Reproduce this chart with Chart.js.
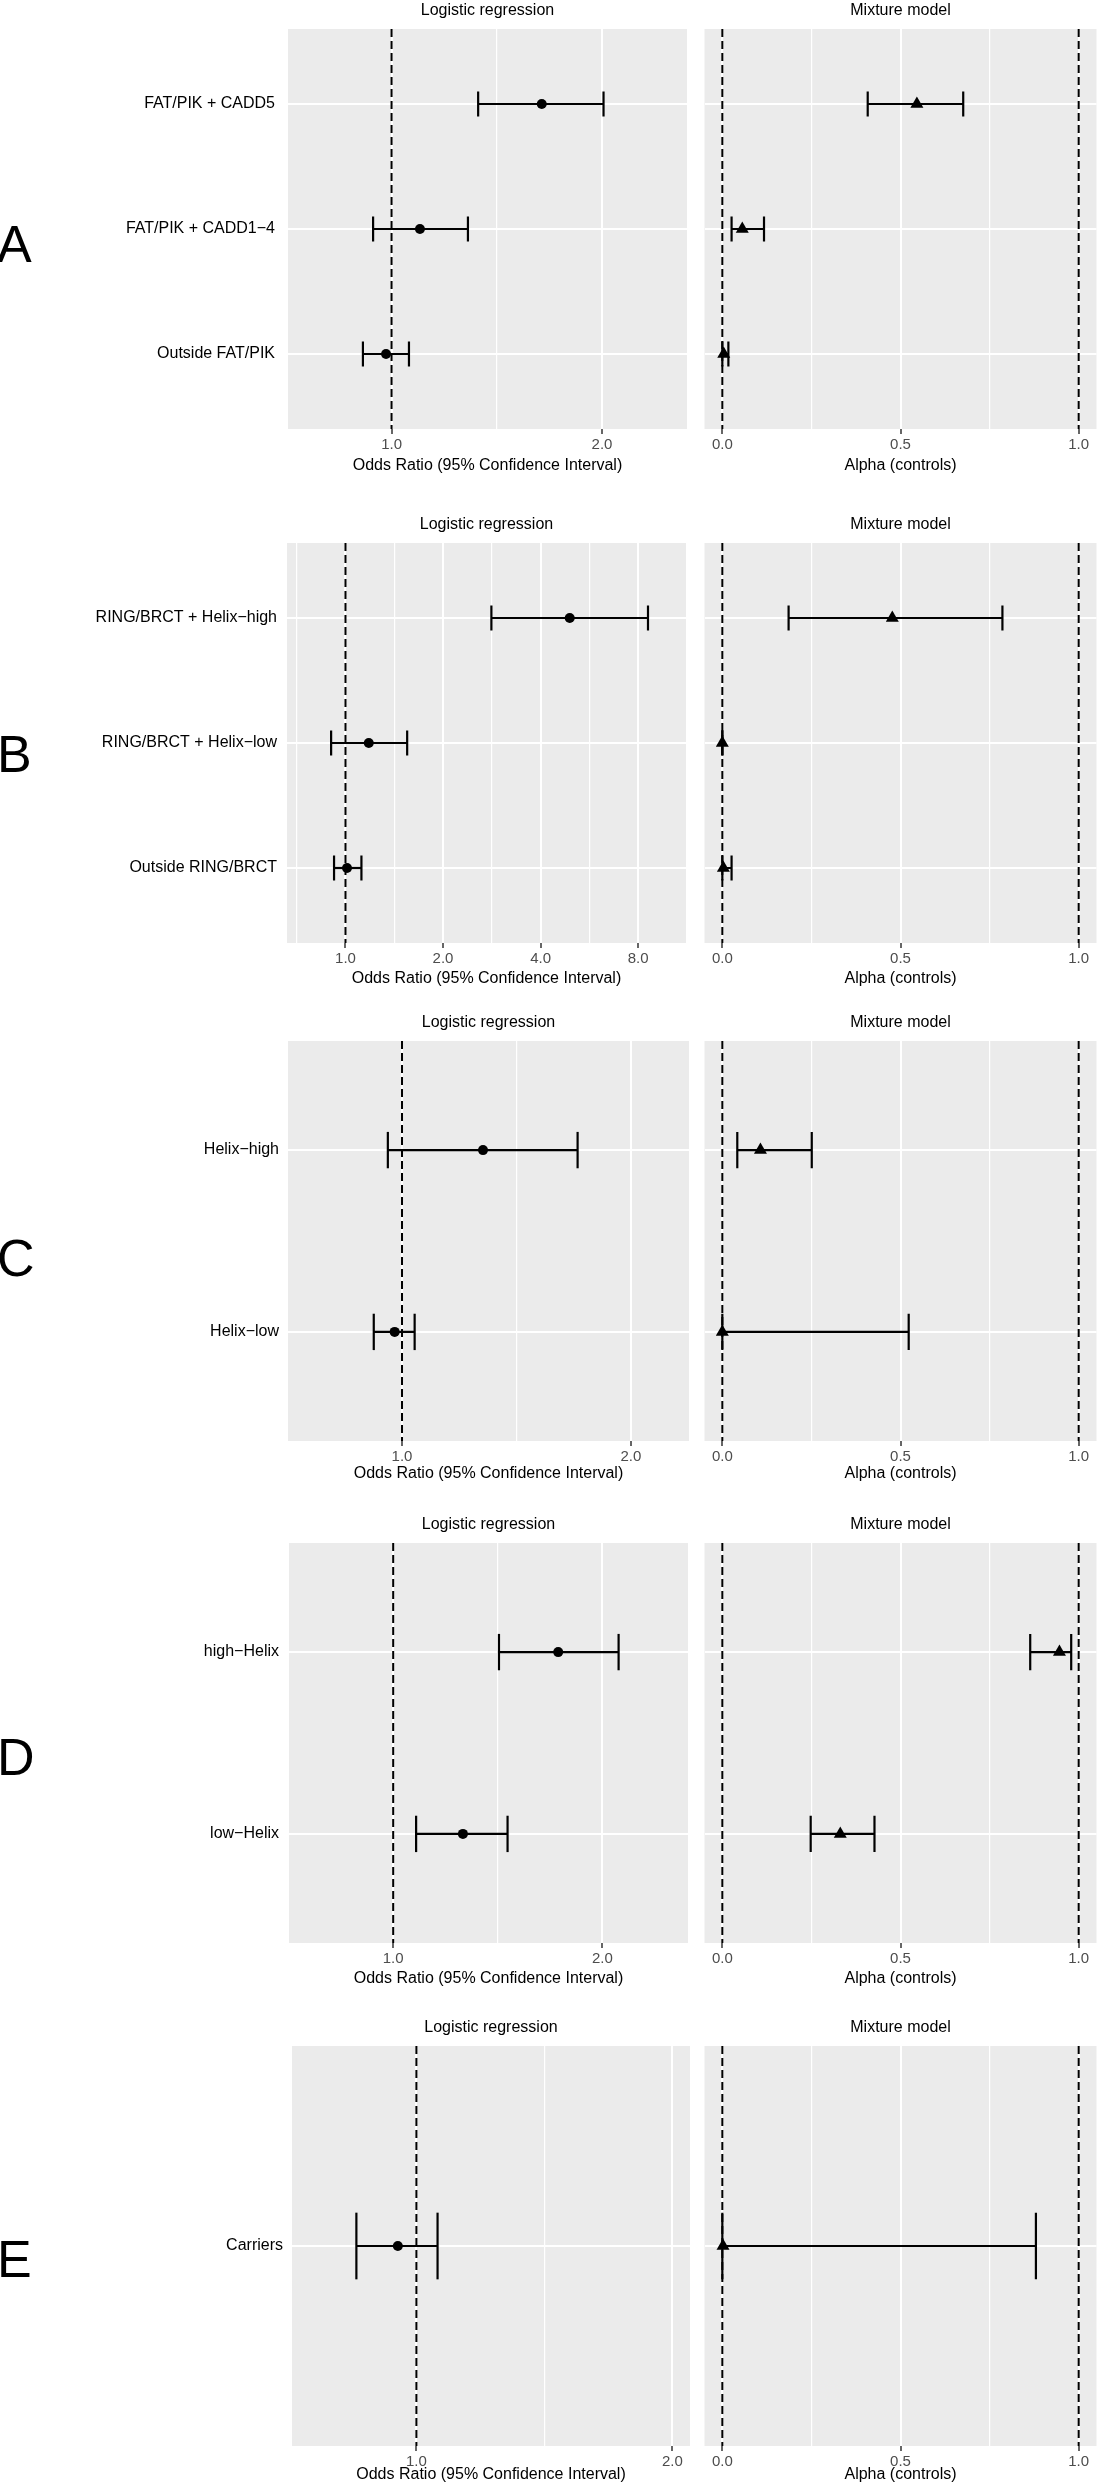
<!DOCTYPE html>
<html>
<head>
<meta charset="utf-8">
<title>Logistic regression vs mixture model</title>
<script src="https://cdn.jsdelivr.net/npm/chart.js@4.4.1/dist/chart.umd.min.js"></script>
<style>
  html, body { margin: 0; padding: 0; background: #fff; overflow: hidden; }
  #page { position: relative; width: 1104px; height: 2484px; overflow: hidden; }
  canvas { position: absolute; }
  .letter { position: absolute; left: -3px; font: 52px "Liberation Sans", Arial, sans-serif; line-height: 1; transform: translateY(-50%); }
</style>
</head>
<body>
<div id="page"></div>
<script>
// ---- data ----
// A
const catsA = ['FAT/PIK + CADD5', 'FAT/PIK + CADD1−4', 'Outside FAT/PIK'];
const orA = [1.64, 1.098, 0.982];
const orLoA = [1.33, 0.941, 0.910];
const orHiA = [2.01, 1.286, 1.059];
const alphaA = [0.546, 0.056, 0.004];
const alphaLoA = [0.408, 0.026, 0.0];
const alphaHiA = [0.676, 0.117, 0.017];
const orLimitsA = [0.711, 2.646];
const orBreaksA = [1, 2];

// B
const catsB = ['RING/BRCT + Helix−high', 'RING/BRCT + Helix−low', 'Outside RING/BRCT'];
const orB = [4.92, 1.18, 1.011];
const orLoB = [2.82, 0.903, 0.922];
const orHiB = [8.58, 1.55, 1.12];
const alphaB = [0.477, 0.0, 0.003];
const alphaLoB = [0.186, 0.0, 0.0];
const alphaHiB = [0.786, 0.0, 0.026];
const orLimitsB = [0.66, 11.24];
const orBreaksB = [1, 2, 4, 8];

// C
const catsC = ['Helix−high', 'Helix−low'];
const orC = [1.278, 0.978];
const orLoC = [0.958, 0.918];
const orHiC = [1.702, 1.039];
const alphaC = [0.107, 0.0];
const alphaLoC = [0.042, 0.0];
const alphaHiC = [0.251, 0.523];
const orLimitsC = [0.708, 2.385];
const orBreaksC = [1, 2];

// D
const catsD = ['high−Helix', 'low−Helix'];
const orD = [1.728, 1.26];
const orLoD = [1.42, 1.079];
const orHiD = [2.111, 1.461];
const alphaD = [0.946, 0.331];
const alphaLoD = [0.864, 0.248];
const alphaHiD = [0.979, 0.427];
const orLimitsD = [0.708, 2.657];
const orBreaksD = [1, 2];

// E
const catsE = ['Carriers'];
const orE = [0.951];
const orLoE = [0.850];
const orHiE = [1.059];
const alphaE = [0.002];
const alphaLoE = [0.0];
const alphaHiE = [0.880];
const orLimitsE = [0.714, 2.098];
const orBreaksE = [1, 2];

const alphaLimits = [-0.05, 1.05];
const alphaBreaks = [0, 0.5, 1];
const alphaMinor = [0.25, 0.75];
const orRef = [1];
const alphaRef = [0, 1];

const rows = [
  { letter: 'A', cats: catsA, or: orA, orLo: orLoA, orHi: orHiA, alpha: alphaA, alphaLo: alphaLoA, alphaHi: alphaHiA, orLimits: orLimitsA, orBreaks: orBreaksA },
  { letter: 'B', cats: catsB, or: orB, orLo: orLoB, orHi: orHiB, alpha: alphaB, alphaLo: alphaLoB, alphaHi: alphaHiB, orLimits: orLimitsB, orBreaks: orBreaksB },
  { letter: 'C', cats: catsC, or: orC, orLo: orLoC, orHi: orHiC, alpha: alphaC, alphaLo: alphaLoC, alphaHi: alphaHiC, orLimits: orLimitsC, orBreaks: orBreaksC },
  { letter: 'D', cats: catsD, or: orD, orLo: orLoD, orHi: orHiD, alpha: alphaD, alphaLo: alphaLoD, alphaHi: alphaHiD, orLimits: orLimitsD, orBreaks: orBreaksD },
  { letter: 'E', cats: catsE, or: orE, orLo: orLoE, orHi: orHiE, alpha: alphaE, alphaLo: alphaLoE, alphaHi: alphaHiE, orLimits: orLimitsE, orBreaks: orBreaksE }
];

// where each row sits on the page (px)
const placement = [
  { top: 29, letterY: 244, orX: [288, 687], alX: [702, 1102], gap: 13, axisH: 46 },
  { top: 543, letterY: 754, orX: [287, 686], alX: [703, 1102], gap: 10, axisH: 45 },
  { top: 1041, letterY: 1258, orX: [288, 689], alX: [703, 1102], gap: 9, axisH: 42 },
  { top: 1543, letterY: 1757, orX: [289, 688], alX: [702, 1102], gap: 10, axisH: 45 },
  { top: 2046, letterY: 2259, orX: [292, 691], alX: [704, 1102], gap: 9, axisH: 38 }
];

const FONT = '"Liberation Sans", Arial, Helvetica, sans-serif';
Chart.defaults.font.family = FONT;
const page = document.getElementById('page');

const panelBg = {
  id: 'panelBg',
  beforeDraw(chart) {
    const { ctx, chartArea: a } = chart;
    ctx.save();
    ctx.fillStyle = '#EBEBEB';
    ctx.fillRect(a.left, a.top, a.right - a.left, a.bottom - a.top);
    ctx.restore();
  }
};

const panelTitle = {
  id: 'panelTitle',
  afterDraw(chart, args, opts) {
    const { ctx, chartArea: a } = chart;
    ctx.save();
    ctx.font = '16px ' + FONT;
    ctx.fillStyle = '#000';
    ctx.textAlign = 'center';
    ctx.textBaseline = 'middle';
    ctx.fillText(opts.text, (a.left + a.right) / 2, a.top - 18);
    ctx.restore();
  }
};

// minor breaks halfway between majors on the log axis
function logMinors(breaks) {
  const all = [breaks[0] / 2, ...breaks, breaks[breaks.length - 1] * 2];
  const out = [];
  for (let i = 1; i < all.length; i++) out.push(Math.sqrt(all[i - 1] * all[i]));
  return out;
}

// error bar caps are 0.2 category units tall
const capHalf = ctx => {
  const y = ctx.chart.scales.y;
  return Math.abs(y.getPixelForValue(0.1) - y.getPixelForValue(0));
};

function makePanel(p) {
  const canvas = document.createElement('canvas');
  canvas.width = p.width;
  canvas.height = 29 + 400 + p.axisH;
  canvas.style.left = p.left + 'px';
  canvas.style.top = (p.top - 29) + 'px';
  page.appendChild(canvas);

  const n = p.cats.length;
  const yMin = -0.6, yMax = n - 0.4;
  const tickList = () => [...p.majors.map(v => ({ value: v })), ...p.minors.map(v => ({ value: v, minor: true }))]
    .filter(t => t.value >= p.limits[0] && t.value <= p.limits[1])
    .sort((a, b) => a.value - b.value);

  const datasets = [];
  p.ref.forEach(v => {
    datasets.push({
      data: [{ x: v, y: yMin }, { x: v, y: yMax }],
      showLine: true, borderColor: '#000', borderWidth: 2, borderDash: [8, 4],
      pointRadius: 0, order: 3
    });
  });
  p.cats.forEach((c, i) => {
    datasets.push({
      data: [{ x: p.lo[i], y: i }, { x: p.hi[i], y: i }],
      showLine: true, borderColor: '#000', borderWidth: 2.2,
      pointStyle: 'line', pointRotation: 90, pointRadius: capHalf,
      pointBorderWidth: 2.2, pointBorderColor: '#000', order: 2
    });
  });
  datasets.push({
    data: p.cats.map((c, i) => ({ x: p.est[i], y: i })),
    pointStyle: p.shape, pointRadius: p.radius,
    pointBackgroundColor: '#000', pointBorderWidth: 0, order: 1
  });

  new Chart(canvas, {
    type: 'scatter',
    data: { datasets },
    plugins: [panelBg, panelTitle],
    options: {
      responsive: false, animation: false, devicePixelRatio: 1, events: [],
      layout: { padding: { top: 29, left: p.padLeft, right: p.padRight, bottom: 0 } },
      plugins: { legend: { display: false }, tooltip: { enabled: false }, panelTitle: { text: p.title } },
      scales: {
        x: {
          type: p.xType, min: p.limits[0], max: p.limits[1], bounds: 'data',
          afterBuildTicks: s => { s.ticks = tickList(); },
          afterFit: s => { s.height = p.axisH; },
          border: { display: false },
          grid: {
            color: '#FFFFFF',
            lineWidth: c => (c.tick && c.tick.minor ? 1.2 : 2),
            drawTicks: true, tickLength: 5, tickWidth: 1.5,
            tickColor: c => (c.tick && c.tick.minor ? 'rgba(0,0,0,0)' : '#333333')
          },
          ticks: {
            autoSkip: false, maxRotation: 0, padding: 2, color: '#4D4D4D',
            font: { size: 15 },
            callback: (v, i, t) => (t[i] && t[i].minor ? '' : Number(v).toFixed(1))
          },
          title: { display: true, text: p.xTitle, color: '#000', font: { size: 16 }, padding: 0 }
        },
        y: {
          type: 'linear', reverse: true, min: yMin, max: yMax, bounds: 'data',
          afterBuildTicks: s => { s.ticks = p.cats.map((c, i) => ({ value: i })); },
          afterFit: s => { s.width = p.yWidth; },
          border: { display: false },
          grid: { color: '#FFFFFF', lineWidth: 2, drawTicks: false },
          ticks: {
            display: p.showCats, autoSkip: false, padding: p.gap, color: '#000',
            font: { size: 16 },
            callback: v => p.cats[Math.round(v)]
          }
        }
      }
    }
  });
}

rows.forEach((r, k) => {
  const pl = placement[k];

  const letter = document.createElement('div');
  letter.className = 'letter';
  letter.textContent = r.letter;
  letter.style.top = pl.letterY + 'px';
  page.appendChild(letter);

  // logistic regression panel
  makePanel({
    left: 40, width: 655, top: pl.top, axisH: pl.axisH,
    padLeft: 0, padRight: 695 - pl.orX[1], yWidth: pl.orX[0] - 40,
    cats: r.cats, est: r.or, lo: r.orLo, hi: r.orHi,
    xType: 'logarithmic', limits: r.orLimits, majors: r.orBreaks, minors: logMinors(r.orBreaks),
    ref: orRef, shape: 'circle', radius: 5, showCats: true, gap: pl.gap,
    title: 'Logistic regression', xTitle: 'Odds Ratio (95% Confidence Interval)'
  });

  // mixture model panel
  makePanel({
    left: 697, width: 407, top: pl.top, axisH: pl.axisH,
    padLeft: pl.alX[0] - 697, padRight: 1104 - pl.alX[1], yWidth: 0,
    cats: r.cats, est: r.alpha, lo: r.alphaLo, hi: r.alphaHi,
    xType: 'linear', limits: alphaLimits, majors: alphaBreaks, minors: alphaMinor,
    ref: alphaRef, shape: 'triangle', radius: 7.5, showCats: false, gap: 0,
    title: 'Mixture model', xTitle: 'Alpha (controls)'
  });
});
</script>
</body>
</html>
